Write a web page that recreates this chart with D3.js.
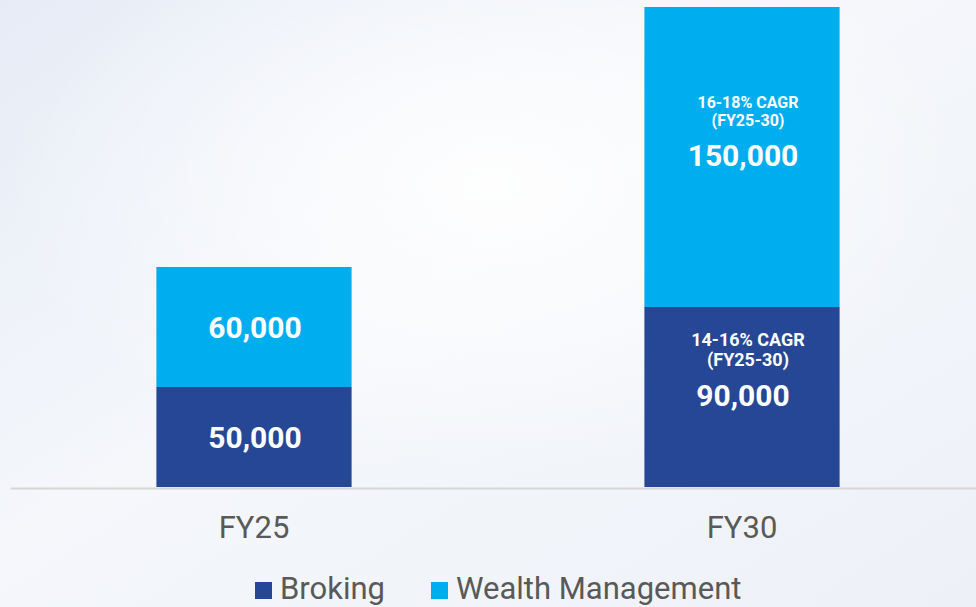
<!DOCTYPE html>
<html>
<head>
<meta charset="utf-8">
<script src="https://cdn.jsdelivr.net/npm/d3@7"></script>
<style>
  html, body { margin: 0; padding: 0; }
  body { width: 976px; height: 607px; overflow: hidden; font-family: Roboto, "Noto Sans", sans-serif; }
</style>
</head>
<body>
<div id="chart"></div>
<script>
var categories = ["FY25", "FY30"];
var series = ["Broking", "Wealth Management"];
var broking = [50000, 90000];
var wealth = [60000, 150000];
var cagrBroking = [null, ["14-16% CAGR", "(FY25-30)"]];
var cagrWealth = [null, ["16-18% CAGR", "(FY25-30)"]];

var colors = { "Broking": "#264796", "Wealth Management": "#00AEEF" };
var noteSize = { "Broking": 18, "Wealth Management": 16 };

var width = 976, height = 607;
var baseY = 487;

var svg = d3.select("#chart").append("svg")
    .attr("width", width)
    .attr("height", height);

// background wash
var defs = svg.append("defs");
var bg = defs.append("linearGradient").attr("id", "bg")
    .attr("x1", 0).attr("y1", 0).attr("x2", 1).attr("y2", 1);
bg.append("stop").attr("offset", "0%").attr("stop-color", "#e6ecf6");
bg.append("stop").attr("offset", "45%").attr("stop-color", "#f5f7fb");
bg.append("stop").attr("offset", "100%").attr("stop-color", "#edf1f7");
var glow = defs.append("radialGradient").attr("id", "glow")
    .attr("cx", "50%").attr("cy", "30%").attr("r", "50%");
glow.append("stop").attr("offset", "0%").attr("stop-color", "#ffffff").attr("stop-opacity", 0.9);
glow.append("stop").attr("offset", "100%").attr("stop-color", "#ffffff").attr("stop-opacity", 0);

svg.append("rect").attr("width", width).attr("height", height).attr("fill", "url(#bg)");
svg.append("rect").attr("width", width).attr("height", height).attr("fill", "url(#glow)");

var x = d3.scaleBand()
    .domain(categories)
    .range([10, 986])
    .paddingInner(0.6)
    .paddingOuter(0.3);

var y = d3.scaleLinear()
    .domain([0, 240000])
    .range([baseY, baseY - 480]);

var rows = categories.map(function(c, i) {
  return { category: c, "Broking": broking[i], "Wealth Management": wealth[i] };
});
var stacked = d3.stack().keys(series)(rows);

var layers = svg.selectAll("g.layer")
    .data(stacked)
    .enter().append("g")
    .attr("class", "layer")
    .attr("fill", function(d) { return colors[d.key]; });

layers.selectAll("rect")
    .data(function(d) { return d; })
    .enter().append("rect")
    .attr("x", function(d) { return x(d.data.category); })
    .attr("y", function(d) { return y(d[1]); })
    .attr("width", x.bandwidth())
    .attr("height", function(d) { return y(d[0]) - y(d[1]); });

// value labels, with the CAGR note above where there is one
var fmt = d3.format(",");
stacked.forEach(function(layer) {
  var notes = layer.key === "Broking" ? cagrBroking : cagrWealth;
  var fs = noteSize[layer.key];
  layer.forEach(function(d, i) {
    var cx = x(d.data.category) + x.bandwidth() / 2;
    var mid = (y(d[0]) + y(d[1])) / 2;
    var note = notes[i];
    var valueY = note ? mid + 8.5 : mid + 10.5;
    if (note) {
      var gap = fs === 18 ? 20 : 18;
      svg.append("text")
          .attr("x", cx + 6).attr("y", valueY - 40 - gap)
          .attr("text-anchor", "middle")
          .attr("fill", "#ffffff")
          .attr("font-weight", "bold")
          .attr("font-size", fs)
          .text(note[0]);
      svg.append("text")
          .attr("x", cx + 6).attr("y", valueY - 40)
          .attr("text-anchor", "middle")
          .attr("fill", "#ffffff")
          .attr("font-weight", "bold")
          .attr("font-size", fs)
          .text(note[1]);
    }
    svg.append("text")
        .attr("x", cx + 1)
        .attr("y", valueY)
        .attr("text-anchor", "middle")
        .attr("fill", "#ffffff")
        .attr("font-weight", "bold")
        .attr("font-size", 30)
        .text(fmt(d[1] - d[0]));
  });
});

// baseline axis
var axis = svg.append("g")
    .attr("transform", "translate(0," + (baseY + 1) + ")")
    .call(d3.axisBottom(x).tickSize(0).tickPadding(28));
axis.select(".domain").attr("stroke", "#d6d6d6").attr("stroke-width", 2);
axis.selectAll(".tick text")
    .attr("font-family", "Roboto, sans-serif")
    .attr("font-size", 31)
    .attr("fill", "#595959");

// legend
var legend = svg.append("g").attr("transform", "translate(255,599)");
var legendX = [0, 176];
series.forEach(function(s, i) {
  var g = legend.append("g").attr("transform", "translate(" + legendX[i] + ",0)");
  g.append("rect").attr("x", 0).attr("y", -17).attr("width", 17).attr("height", 17).attr("fill", colors[s]);
  g.append("text").attr("x", 25).attr("y", 0)
      .attr("font-size", 31).attr("fill", "#595959").text(s);
});
</script>
</body>
</html>
